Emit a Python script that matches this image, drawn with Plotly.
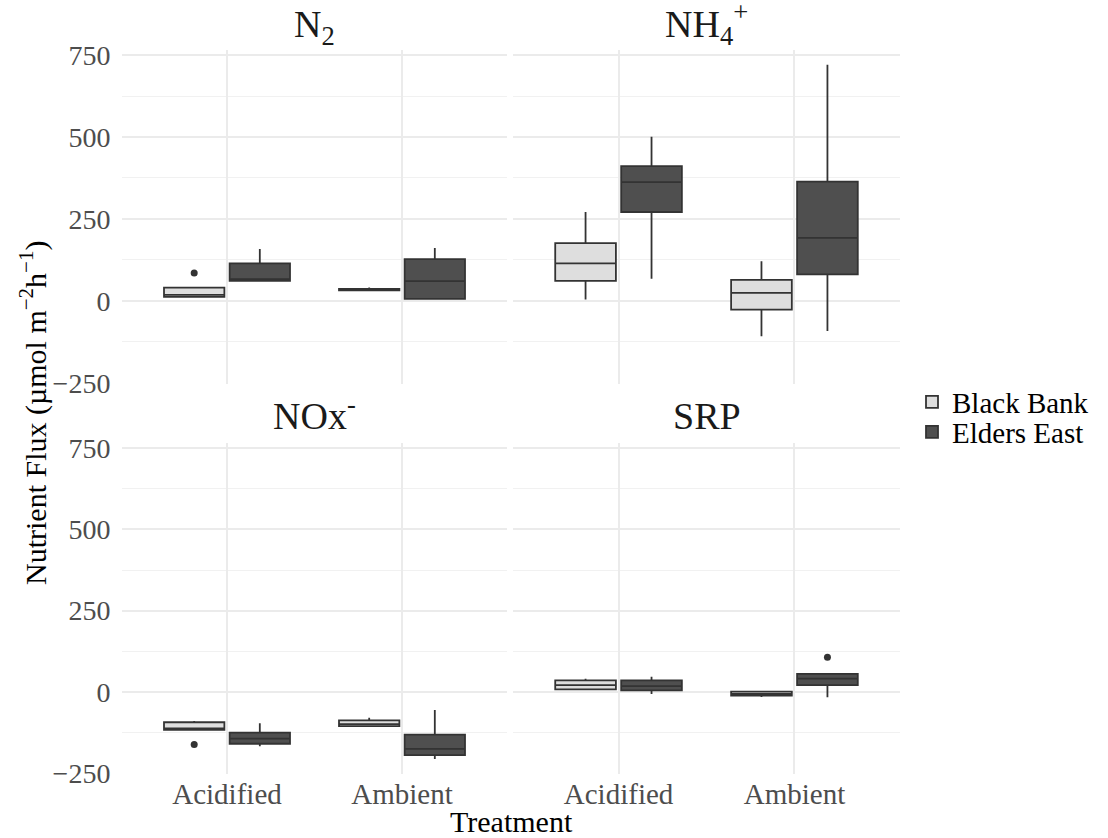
import plotly.graph_objects as go
from plotly.subplots import make_subplots

# Treatments on the x axis and the four nutrient panels
treatments = ["Acidified", "Ambient"]
panel_titles = ["N<sub>2</sub>", "NH<sub>4</sub><sup>+</sup>", "NOx<sup>-</sup>", "SRP"]

# Box statistics per panel (N2, NH4+, NOx-, SRP), each listing [Acidified, Ambient]
bb_low = [[9, 31], [4, -108], [-116, -105], [8, -15]]
bb_q1 = [[12, 32], [61, -27], [-116, -105], [8, -11]]
bb_med = [[18, 34], [114, 24], [-112, -99], [21, -6]]
bb_q3 = [[40, 36], [176, 64], [-93, -87], [36, 1]]
bb_high = [[40, 41], [271, 121], [-89, -79], [41, 1]]
bb_outliers = [[[85], []], [[], []], [[-161], []], [[], []]]

ee_low = [[60, 4], [67, -92], [-167, -206], [-6, -16]]
ee_q1 = [[61, 6], [271, 81], [-159, -194], [5, 21]]
ee_med = [[66, 60], [362, 192], [-143, -175], [18, 41]]
ee_q3 = [[114, 127], [411, 364], [-125, -131], [36, 56]]
ee_high = [[158, 161], [501, 720], [-96, -55], [47, 56]]
ee_outliers = [[[], []], [[], []], [[], []], [[], [107]]]

sites = [
    ("Black Bank", "#dedede", "legend", bb_low, bb_q1, bb_med, bb_q3, bb_high, bb_outliers),
    ("Elders East", "#4f4f4f", "legend2", ee_low, ee_q1, ee_med, ee_q3, ee_high, ee_outliers),
]

W, H = 1108, 838
FONT = "Liberation Serif"
OUTLINE = "#333333"
GRID = "#ebebeb"

fig = make_subplots(rows=2, cols=2)

for p in range(4):
    row, col = p // 2 + 1, p % 2 + 1
    for name, fill, leg, low, q1, med, q3, high, outl in sites:
        fig.add_trace(
            go.Box(
                x=treatments,
                lowerfence=low[p], q1=q1[p], median=med[p], q3=q3[p], upperfence=high[p],
                name=name, legendgroup=name, showlegend=(p == 0), legend=leg,
                offsetgroup=name,
                fillcolor=fill,
                line=dict(color=OUTLINE, width=1.8),
                whiskerwidth=0,
                boxpoints=False,
            ),
            row=row, col=col,
        )
        # outlying observations drawn as points in the same dodge slot
        for t, pts in enumerate(outl[p]):
            if not pts:
                continue
            fig.add_trace(
                go.Box(
                    x=[treatments[t]] * len(pts), y=pts,
                    offsetgroup=name, showlegend=False, hoverinfo="skip",
                    boxpoints="all", jitter=0, pointpos=0,
                    fillcolor="rgba(0,0,0,0)",
                    line=dict(width=0, color="rgba(0,0,0,0)"),
                    marker=dict(color=OUTLINE, size=7),
                ),
                row=row, col=col,
            )

# panel placement in pixels: (x0, x1) and (y_top, y_bottom)
xdoms = [(122, 507), (513, 900)]
ydoms = [(49.7, 383.5), (442.7, 774.1)]

for r in range(2):
    for c in range(2):
        idx = r * 2 + c + 1
        xa = "xaxis" if idx == 1 else f"xaxis{idx}"
        ya = "yaxis" if idx == 1 else f"yaxis{idx}"
        x0, x1 = xdoms[c]
        yt, yb = ydoms[r]
        fig.layout[xa].update(
            domain=[x0 / W, x1 / W],
            type="category", categoryorder="array", categoryarray=treatments,
            range=[-0.6, 1.6],
            showgrid=True, gridcolor=GRID, gridwidth=1.6,
            zeroline=False, showline=False,
            showticklabels=(r == 1),
            ticks="",
            tickfont=dict(family=FONT, size=29, color="#4d4d4d"),
            automargin=False,
        )
        fig.layout[ya].update(
            domain=[1 - yb / H, 1 - yt / H],
            range=[-252.3, 766.3],
            tickvals=[-250, 0, 250, 500, 750],
            showgrid=True, gridcolor=GRID, gridwidth=1.6,
            minor=dict(dtick=125, tick0=0, showgrid=True, gridcolor="#f1f1f1", gridwidth=1),
            zeroline=False, showline=False,
            showticklabels=(c == 0),
            ticks="outside", ticklen=5, tickcolor="rgba(0,0,0,0)",
            tickfont=dict(family=FONT, size=28, color="#4d4d4d"),
            automargin=False,
        )

annotations = []
# panel titles, baseline just above each panel
for p, title in enumerate(panel_titles):
    r, c = p // 2, p % 2
    x0, x1 = xdoms[c]
    yt, _ = ydoms[r]
    annotations.append(dict(
        text=title, x=(x0 + x1) / 2 / W, y=1 - (yt + (3 if r == 0 else -4)) / H,
        xref="paper", yref="paper", xanchor="center", yanchor="bottom",
        showarrow=False, font=dict(family=FONT, size=38, color="#1a1a1a"),
    ))
# axis titles
annotations.append(dict(
    text="Treatment", x=(xdoms[0][0] + xdoms[1][1]) / 2 / W, y=1 - 821 / H,
    xref="paper", yref="paper", xanchor="center", yanchor="middle",
    showarrow=False, font=dict(family=FONT, size=30, color="#000000"),
))
annotations.append(dict(
    text="Nutrient Flux (µmol m<sup>−2</sup>h<sup>−1</sup>)",
    x=34 / W, y=1 - 413 / H, textangle=-90,
    xref="paper", yref="paper", xanchor="center", yanchor="middle",
    showarrow=False, font=dict(family=FONT, size=30, color="#000000"),
))

legend_style = dict(
    xanchor="left", yanchor="middle",
    font=dict(family=FONT, size=29, color="#000000"),
    itemwidth=30, bgcolor="rgba(0,0,0,0)",
)

fig.update_layout(
    width=W, height=H,
    margin=dict(l=0, r=0, t=0, b=0),
    paper_bgcolor="white", plot_bgcolor="white",
    boxmode="group", boxgap=0.25, boxgroupgap=0.08,
    font=dict(family=FONT, color="#000000"),
    legend=dict(x=912 / W, y=1 - 402 / H, **legend_style),
    legend2=dict(x=912 / W, y=1 - 432 / H, **legend_style),
    annotations=annotations,
    showlegend=True,
)

fig.write_html("out.html")
